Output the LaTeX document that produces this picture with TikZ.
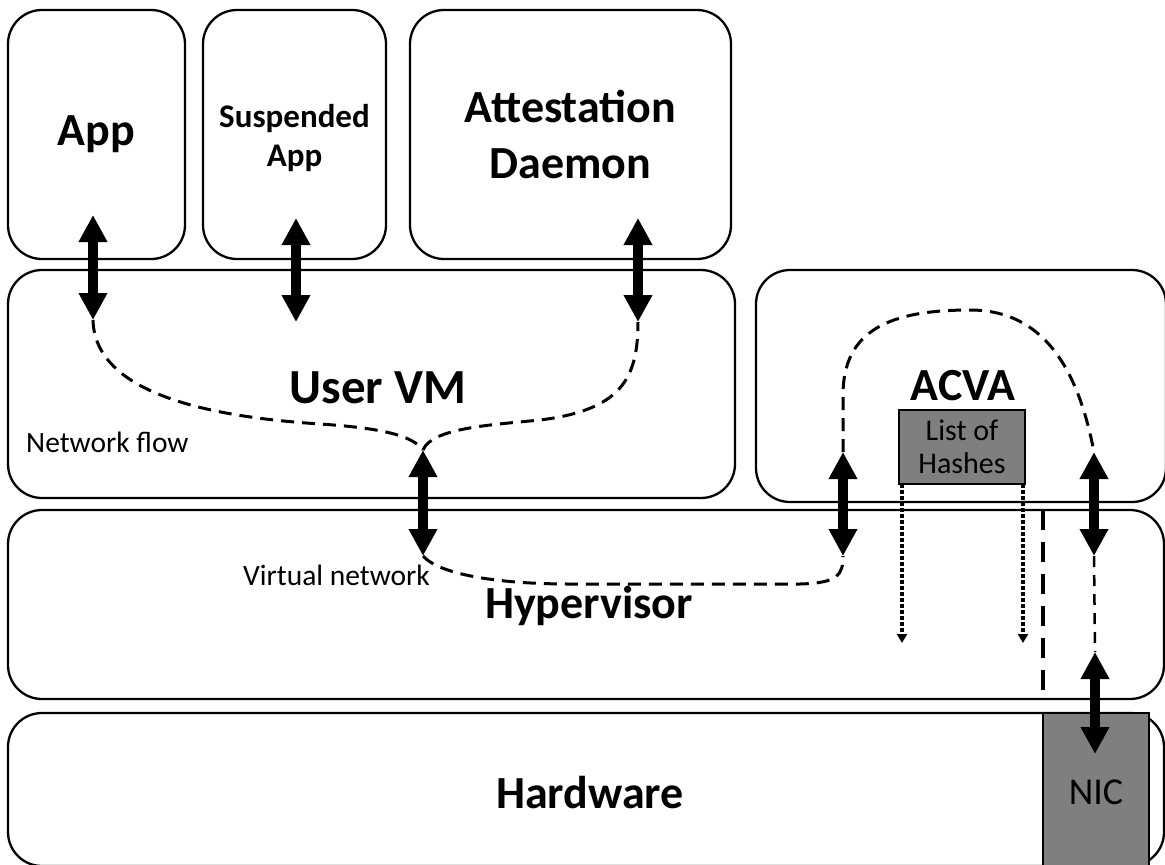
\documentclass[tikz,border=0pt]{standalone}
\usepackage{fontspec}
\setmainfont{Carlito}
\usetikzlibrary{arrows.meta}
\definecolor{midgray}{HTML}{7F7F7F}
\begin{document}
\begin{tikzpicture}[x=1pt,y=-1pt,
  layer/.style={draw, line width=2.3pt, rounded corners=34pt, inner sep=0pt, align=center},
  graybox/.style={draw, line width=1.5pt, fill=midgray, inner sep=0pt, align=center},
  bigtext/.style={font=\fontsize{46}{56}\selectfont\bfseries},
  midtext/.style={font=\fontsize{33}{39}\selectfont\bfseries},
  note/.style={font=\fontsize{29.5}{33}\selectfont},
  link/.style={line width=10pt, {Triangle[width=27pt,length=27pt]}-{Triangle[width=27pt,length=27pt]}},
  flow/.style={line width=3pt, dash pattern=on 13pt off 8pt},
  thinflow/.style={line width=2.5pt, dash pattern=on 11pt off 8pt},
  bus/.style={line width=4.5pt, dash pattern=on 20pt off 12pt},
  readout/.style={line width=3.6pt, dash pattern=on 3.5pt off 2.5pt, -{Triangle[width=10pt,length=9pt]}}]

\useasboundingbox (0,0) rectangle (1165,865);

% software layers
\node[layer, bigtext, minimum width=177pt, minimum height=249pt] (app) at (96.5,134.5) {App};
\node[layer, minimum width=183pt, minimum height=249pt] (susp) at (294.5,134.5) {};
\node[midtext, align=center] (suspL) at (294.5,138) {Suspended\\App};
\node[layer, bigtext, minimum width=321pt, minimum height=249pt] (att) at (570.5,134.5) {Attestation\\Daemon};
\node[layer, minimum width=727pt, minimum height=228pt] (uvm) at (371.5,384) {};
\node[bigtext, font=\fontsize{49}{56}\selectfont\bfseries] (uvmL) at (378,388) {User VM};
\node[layer, minimum width=410pt, minimum height=232pt] (acva) at (961,386) {};
\node[bigtext] (acvaL) at (963,386) {ACVA};
\node[layer, minimum width=1156pt, minimum height=189pt] (hyp) at (586,604.5) {};
\node[bigtext] (hypL) at (589,606) {Hypervisor};
\node[layer, minimum width=1156pt, minimum height=153pt] (hw) at (586,789.5) {};
\node[bigtext] (hwL) at (590,793) {Hardware};

% gray components
\node[graybox, note, font=\fontsize{30}{33}\selectfont, minimum width=126pt, minimum height=74pt] (hashes) at (962,447) {List of\\Hashes};
\node[graybox, minimum width=106pt, minimum height=160pt] (nic) at (1096,793) {};
\node[font=\fontsize{38}{40}\selectfont] (nicL) at (1096,792) {NIC};

% labels
\node[note, anchor=base west, inner sep=0pt] (nf) at (26,452) {Network flow};
\node[note, anchor=base west, inner sep=0pt] (vn) at (243,585) {Virtual network};

% arrow end points
\coordinate (a1t) at (93,215);   \coordinate (a1b) at (93,320);
\coordinate (a2t) at (296,218);  \coordinate (a2b) at (296,322);
\coordinate (a3t) at (638,218);  \coordinate (a3b) at (638,322);
\coordinate (a4t) at (423,450);  \coordinate (a4b) at (423,556);
\coordinate (a5t) at (843,452);  \coordinate (a5b) at (843,556);
\coordinate (a6t) at (1094,452); \coordinate (a6b) at (1094,556);
\coordinate (a7t) at (1095,652); \coordinate (a7b) at (1095,754);
\coordinate (d1t) at (902,484);  \coordinate (d1b) at (902,643);
\coordinate (d2t) at (1023,484); \coordinate (d2b) at (1023,643);
\coordinate (bt) at (1043,510);  \coordinate (bb) at (1043,700);

% network flow paths
\draw[flow] (a1b) .. controls (95,400) and (230,418) .. (320,424)
            .. controls (380,428) and (412,435) .. (a4t);
\draw[flow] (a4t) .. controls (432,428) and (490,425) .. (540,420)
            .. controls (620,410) and (638,380) .. (a3b);
\draw[flow] (a4b) .. controls (440,575) and (500,584) .. (570,584)
            -- (800,584) .. controls (838,583) and (843,575) .. (a5b);
\draw[flow] (a5t) -- (843,395) .. controls (843,330) and (890,310) .. (970,310)
            .. controls (1050,310) and (1080,380) .. (a6t);
\draw[thinflow] (a6b) -- (a7t);
\draw[bus] (bt) -- (bb);

% hash readouts
\draw[readout] (d1t) -- (d1b);
\draw[readout] (d2t) -- (d2b);

% interfaces
\draw[link] (a1t) -- (a1b);
\draw[link] (a2t) -- (a2b);
\draw[link] (a3t) -- (a3b);
\draw[link] (a4t) -- (a4b);
\draw[link] (a5t) -- (a5b);
\draw[link] (a6t) -- (a6b);
\draw[link] (a7t) -- (a7b);
\end{tikzpicture}
\end{document}
